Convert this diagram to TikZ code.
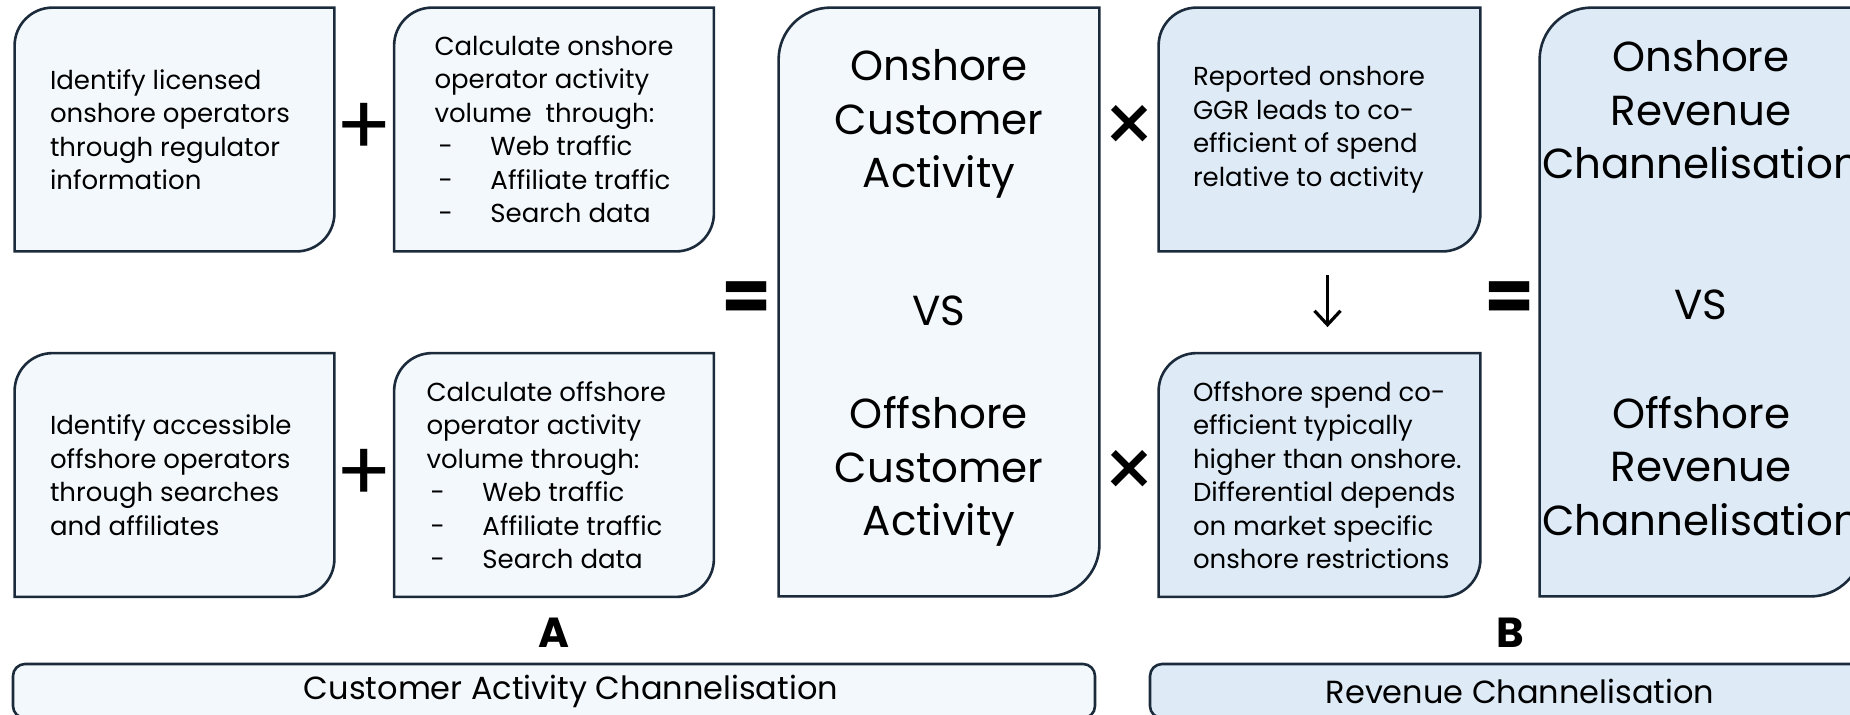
\documentclass[tikz,border=0pt]{standalone}
\usepackage{fontspec}
\setmainfont{Poppins}
\usepackage{tikz}
\usetikzlibrary{positioning, calc, arrows.meta}

\definecolor{edgeblue}{HTML}{1C2B3B}
\definecolor{paleblue}{HTML}{F3F8FC}
\definecolor{softblue}{HTML}{DEEBF7}

\tikzset{
    cell/.style={minimum width=159.5pt, minimum height=121.5pt, inner sep=0pt},
    tall/.style={minimum width=160pt, minimum height=294pt, inner sep=0pt},
    celltext/.style={align=left, inner sep=0pt, font=\fontsize{13}{16.75}\selectfont},
    talltext/.style={align=center, inner sep=0pt, font=\fontsize{21}{26.75}\selectfont},
    tabedge/.style={draw=edgeblue, line width=1.3pt},
    bar/.style={tabedge, rounded corners=6pt, minimum height=27pt, inner sep=0pt, font=\fontsize{16}{19}\selectfont},
    op/.style={inner sep=0pt, font=\fontsize{42}{42}\selectfont},
    eqop/.style={inner sep=0pt, font=\fontsize{36}{36}\selectfont\bfseries},
    part/.style={inner sep=0pt, font=\fontsize{21}{21}\selectfont\bfseries},
    flow/.style={line width=1.6pt, -{Straight Barb[length=7pt, width=13pt]}}
}

% box with two rounded corners (top left, bottom right)
\newcommand\tabframe[3]{%
    \draw[tabedge, fill=#2] (#1.north east) -- ([yshift=#3]#1.south east)
        arc[start angle=0, end angle=-90, radius=#3] -- (#1.south west)
        -- ([yshift=-#3]#1.north west) arc[start angle=180, end angle=90, radius=#3] -- cycle;}
\newcommand\dashitem[1]{\makebox[28pt][l]{\hspace{2pt}-}#1}

\begin{document}
\begin{tikzpicture}[x=0.5pt, y=0.5pt]
    \useasboundingbox (0,0) rectangle (1850,-714);
    \clip (0,0) rectangle (1850,-714);

    % A
    \node[cell] (idon) at (174.5,-129.5) {};
    \node[cell] (calcon) at (554,-129.5) {};
    \node[cell] (idoff) at (174.5,-475) {};
    \node[cell] (calcoff) at (554,-475) {};
    \node[tall] (act) at (939,-302) {};
    \tabframe{idon}{paleblue}{19pt}
    \tabframe{calcon}{paleblue}{19pt}
    \tabframe{idoff}{paleblue}{19pt}
    \tabframe{calcoff}{paleblue}{19pt}
    \tabframe{act}{paleblue}{26pt}

    \node[celltext, right=17.5pt of idon.west] (idontext) {Identify licensed\\onshore operators\\through regulator\\information};
    \node[celltext, right=20pt of calcon.west] (calcontext) {Calculate onshore\\operator activity\\volume~ through:\\\dashitem{Web traffic}\\\dashitem{Affiliate traffic}\\\dashitem{Search data}};
    \node[celltext, right=17.5pt of idoff.west] (idofftext) {Identify accessible\\offshore operators\\through searches\\and affiliates};
    \node[celltext, right=16pt of calcoff.west] (calcofftext) {Calculate offshore\\operator activity\\volume through:\\\dashitem{Web traffic}\\\dashitem{Affiliate traffic}\\\dashitem{Search data}};
    \node[talltext] (acttext) at ([yshift=2pt]act.center) {Onshore\\Customer\\Activity\\[42pt]VS\\[25pt]Offshore\\Customer\\Activity};

    \node[op] (plusA) at ($(idon.east)!0.5!(calcon.west)$) {+};
    \node[op] (plusB) at ($(idoff.east)!0.5!(calcoff.west)$) {+};
    \node[eqop] (eqA) at ($(calcon.east |- act.center)!0.5!(act.west)$) {=};

    % B
    \node[cell, minimum width=160.5pt] (spon) at (1319.5,-129.5) {};
    \node[cell, minimum width=160.5pt] (spoff) at (1319.5,-475) {};
    \node[tall, minimum width=161pt] (rev) at (1701,-302) {};
    \tabframe{spon}{softblue}{19pt}
    \tabframe{spoff}{softblue}{19pt}
    \tabframe{rev}{softblue}{26pt}

    \node[celltext, right=17pt of spon.west] (spontext) {Reported onshore\\GGR leads to co-\\efficient of spend\\relative to activity};
    \node[celltext, right=17pt of spoff.west] (spofftext) {Offshore spend co-\\efficient typically\\higher than onshore.\\Differential depends\\on market specific\\onshore restrictions};
    \node[talltext] (revtext) at ([yshift=7pt]rev.center) {Onshore\\Revenue\\Channelisation\\[43.5pt]VS\\[27.75pt]Offshore\\Revenue\\Channelisation};

    \node[op] (timesA) at ($(act.east |- spon.center)!0.5!(spon.west)$) {×};
    \node[op] (timesB) at ($(act.east |- spoff.center)!0.5!(spoff.west)$) {×};
    \node[eqop] (eqB) at ($(spon.east |- rev.center)!0.5!(rev.west)$) {=};
    \draw[flow, shorten <=12pt, shorten >=13pt] ([xshift=4pt]spon.south) -- ([xshift=4pt]spoff.north);

    % bottom bars
    \node[bar, fill=paleblue, minimum width=541pt] (barA) at (554,-691) {\hspace*{17pt}Customer Activity Channelisation};
    \node[bar, fill=softblue, minimum width=370pt] (barB) at (1520,-691) {Revenue Channelisation};
    \node[part, above=7.5pt of barA] (partA) {A};
    \node[part] (partB) at (eqB |- partA) {B};
\end{tikzpicture}
\end{document}
